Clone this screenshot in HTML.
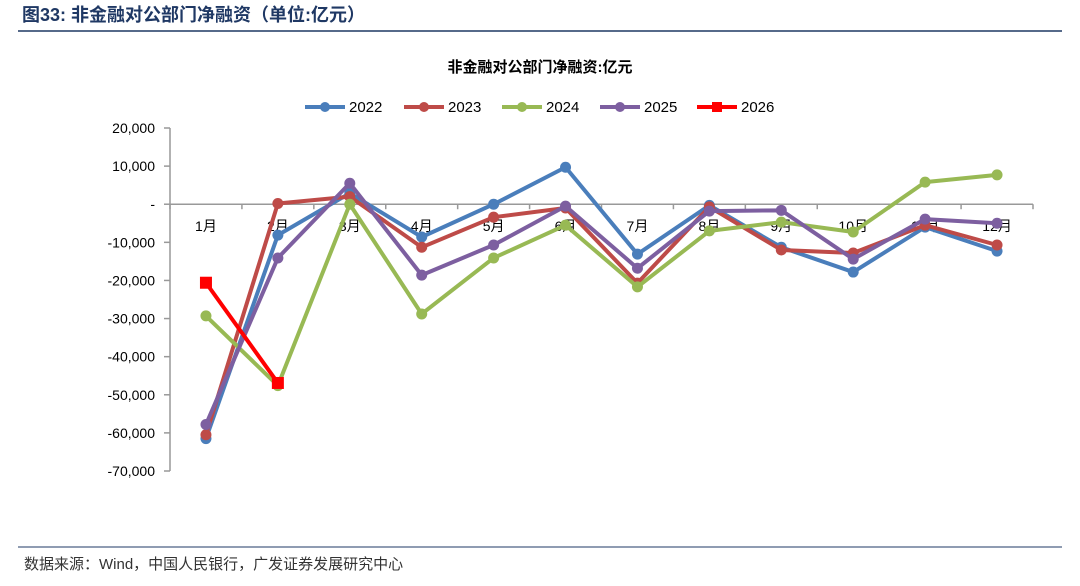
<!DOCTYPE html>
<html><head><meta charset="utf-8"><style>
body{margin:0;background:#fff;width:1080px;height:581px;overflow:hidden;font-family:"Liberation Sans","Noto Sans CJK SC",sans-serif}
</style></head><body>
<svg width="1080" height="581" xmlns="http://www.w3.org/2000/svg" font-family="'Liberation Sans','Noto Sans CJK SC',sans-serif">
<text x="22" y="21" font-size="18" font-weight="bold" fill="#1f3864">图33:  非金融对公部门净融资（单位:亿元）</text>
<line x1="18" y1="31" x2="1062" y2="31" stroke="#1f3864" stroke-width="1.5"/>
<text x="540" y="72" font-size="15" font-weight="bold" text-anchor="middle" fill="#000">非金融对公部门净融资:亿元</text>
<g id="legend"></g>
<g id="axes"></g>
<g id="plot"></g>
<line x1="18" y1="547" x2="1062" y2="547" stroke="#1f3864" stroke-width="1"/>
<text x="24" y="569" font-size="15" fill="#333">数据来源：Wind，中国人民银行，广发证券发展研究中心</text>
</svg>
<script>
const categories=["1月","2月","3月","4月","5月","6月","7月","8月","9月","10月","11月","12月"];
const seriesNames=["2022","2023","2024","2025","2026"];
const s2022=[-61500,-8100,2900,-8600,0,9700,-13100,-300,-11300,-17800,-6000,-12300];
const s2023=[-60500,200,2000,-11300,-3400,-1000,-20700,-700,-12000,-12800,-5500,-10700];
const s2024=[-29300,-47600,0,-28800,-14100,-5500,-21700,-7000,-4700,-7300,5800,7700];
const s2025=[-57800,-14100,5500,-18600,-10700,-500,-16800,-1800,-1600,-14400,-3900,-5000];
const s2026=[-20600,-46900];
const yTicks=[20000,10000,0,-10000,-20000,-30000,-40000,-50000,-60000,-70000];
const yTickLabels=["20,000","10,000","-","-10,000","-20,000","-30,000","-40,000","-50,000","-60,000","-70,000"];
const colors=["#4a7ebb","#be4b48","#98b954","#7d5fa0","#ff0000"];
const NS="http://www.w3.org/2000/svg";
const X0=170,X1=1033,Y0=128,Y1=471,VMAX=20000,VMIN=-70000;
const step=(X1-X0)/categories.length;
const xs=i=>X0+step*(i+0.5);
const ys=v=>Y0+(VMAX-v)/(VMAX-VMIN)*(Y1-Y0);
function mk(tag,attrs,parent){const e=document.createElementNS(NS,tag);for(const k in attrs)e.setAttribute(k,attrs[k]);parent.appendChild(e);return e;}
const axes=document.getElementById('axes'),plot=document.getElementById('plot'),legend=document.getElementById('legend');
let ya=mk('line',{x1:X0,y1:Y0,x2:X0,y2:Y1,stroke:'#999','stroke-width':1.5},axes);


yTicks.forEach((v,i)=>{
 let t=mk('line',{x1:X0-6,y1:ys(v),x2:X0,y2:ys(v),stroke:'#999','stroke-width':1.5},axes);
 
 
 let l=mk('text',{x:X0-15,y:ys(v)+5,'font-size':14,'text-anchor':'end',fill:'#000'},axes);
 l.textContent=yTickLabels[i];
 
 
});
let xa=mk('line',{x1:X0,y1:ys(0),x2:X1,y2:ys(0),stroke:'#999','stroke-width':1.5},axes);


for(let i=0;i<=categories.length;i++){
 let t=mk('line',{x1:X0+step*i,y1:ys(0),x2:X0+step*i,y2:ys(0)+5,stroke:'#999','stroke-width':1.5},axes);
 
 
}
categories.forEach((c,i)=>{
 let l=mk('text',{x:xs(i),y:ys(0)+27,'font-size':14,'text-anchor':'middle',fill:'#000'},axes);
 l.textContent=c;
 
 
});
const allSeries=[s2022,s2023,s2024,s2025,s2026];
allSeries.forEach((s,k)=>{
 const pts=s.map((v,i)=>xs(i)+','+ys(v)).join(' ');
 let pl=mk('polyline',{points:pts,fill:'none',stroke:colors[k],'stroke-width':4,'stroke-linejoin':'round'},plot);
 
 
 s.forEach((v,i)=>{
  let m;
  if(k===4) m=mk('rect',{x:xs(i)-6,y:ys(v)-6,width:12,height:12,fill:colors[k]},plot);
  else m=mk('circle',{cx:xs(i),cy:ys(v),r:5.5,fill:colors[k]},plot);
  
  
 });
});
const LX=[305,404,502,600,697];
seriesNames.forEach((n,k)=>{
 const g=mk('g',{},legend);
 
 
 mk('line',{x1:LX[k],y1:107,x2:LX[k]+40,y2:107,stroke:colors[k],'stroke-width':4},g);
 if(k===4) mk('rect',{x:LX[k]+15,y:102,width:10,height:10,fill:colors[k]},g);
 else mk('circle',{cx:LX[k]+20,cy:107,r:5,fill:colors[k]},g);
 const t=mk('text',{x:LX[k]+44,y:112,'font-size':15,fill:'#000'},g);
 t.textContent=n;
});
</script>
</body></html>
